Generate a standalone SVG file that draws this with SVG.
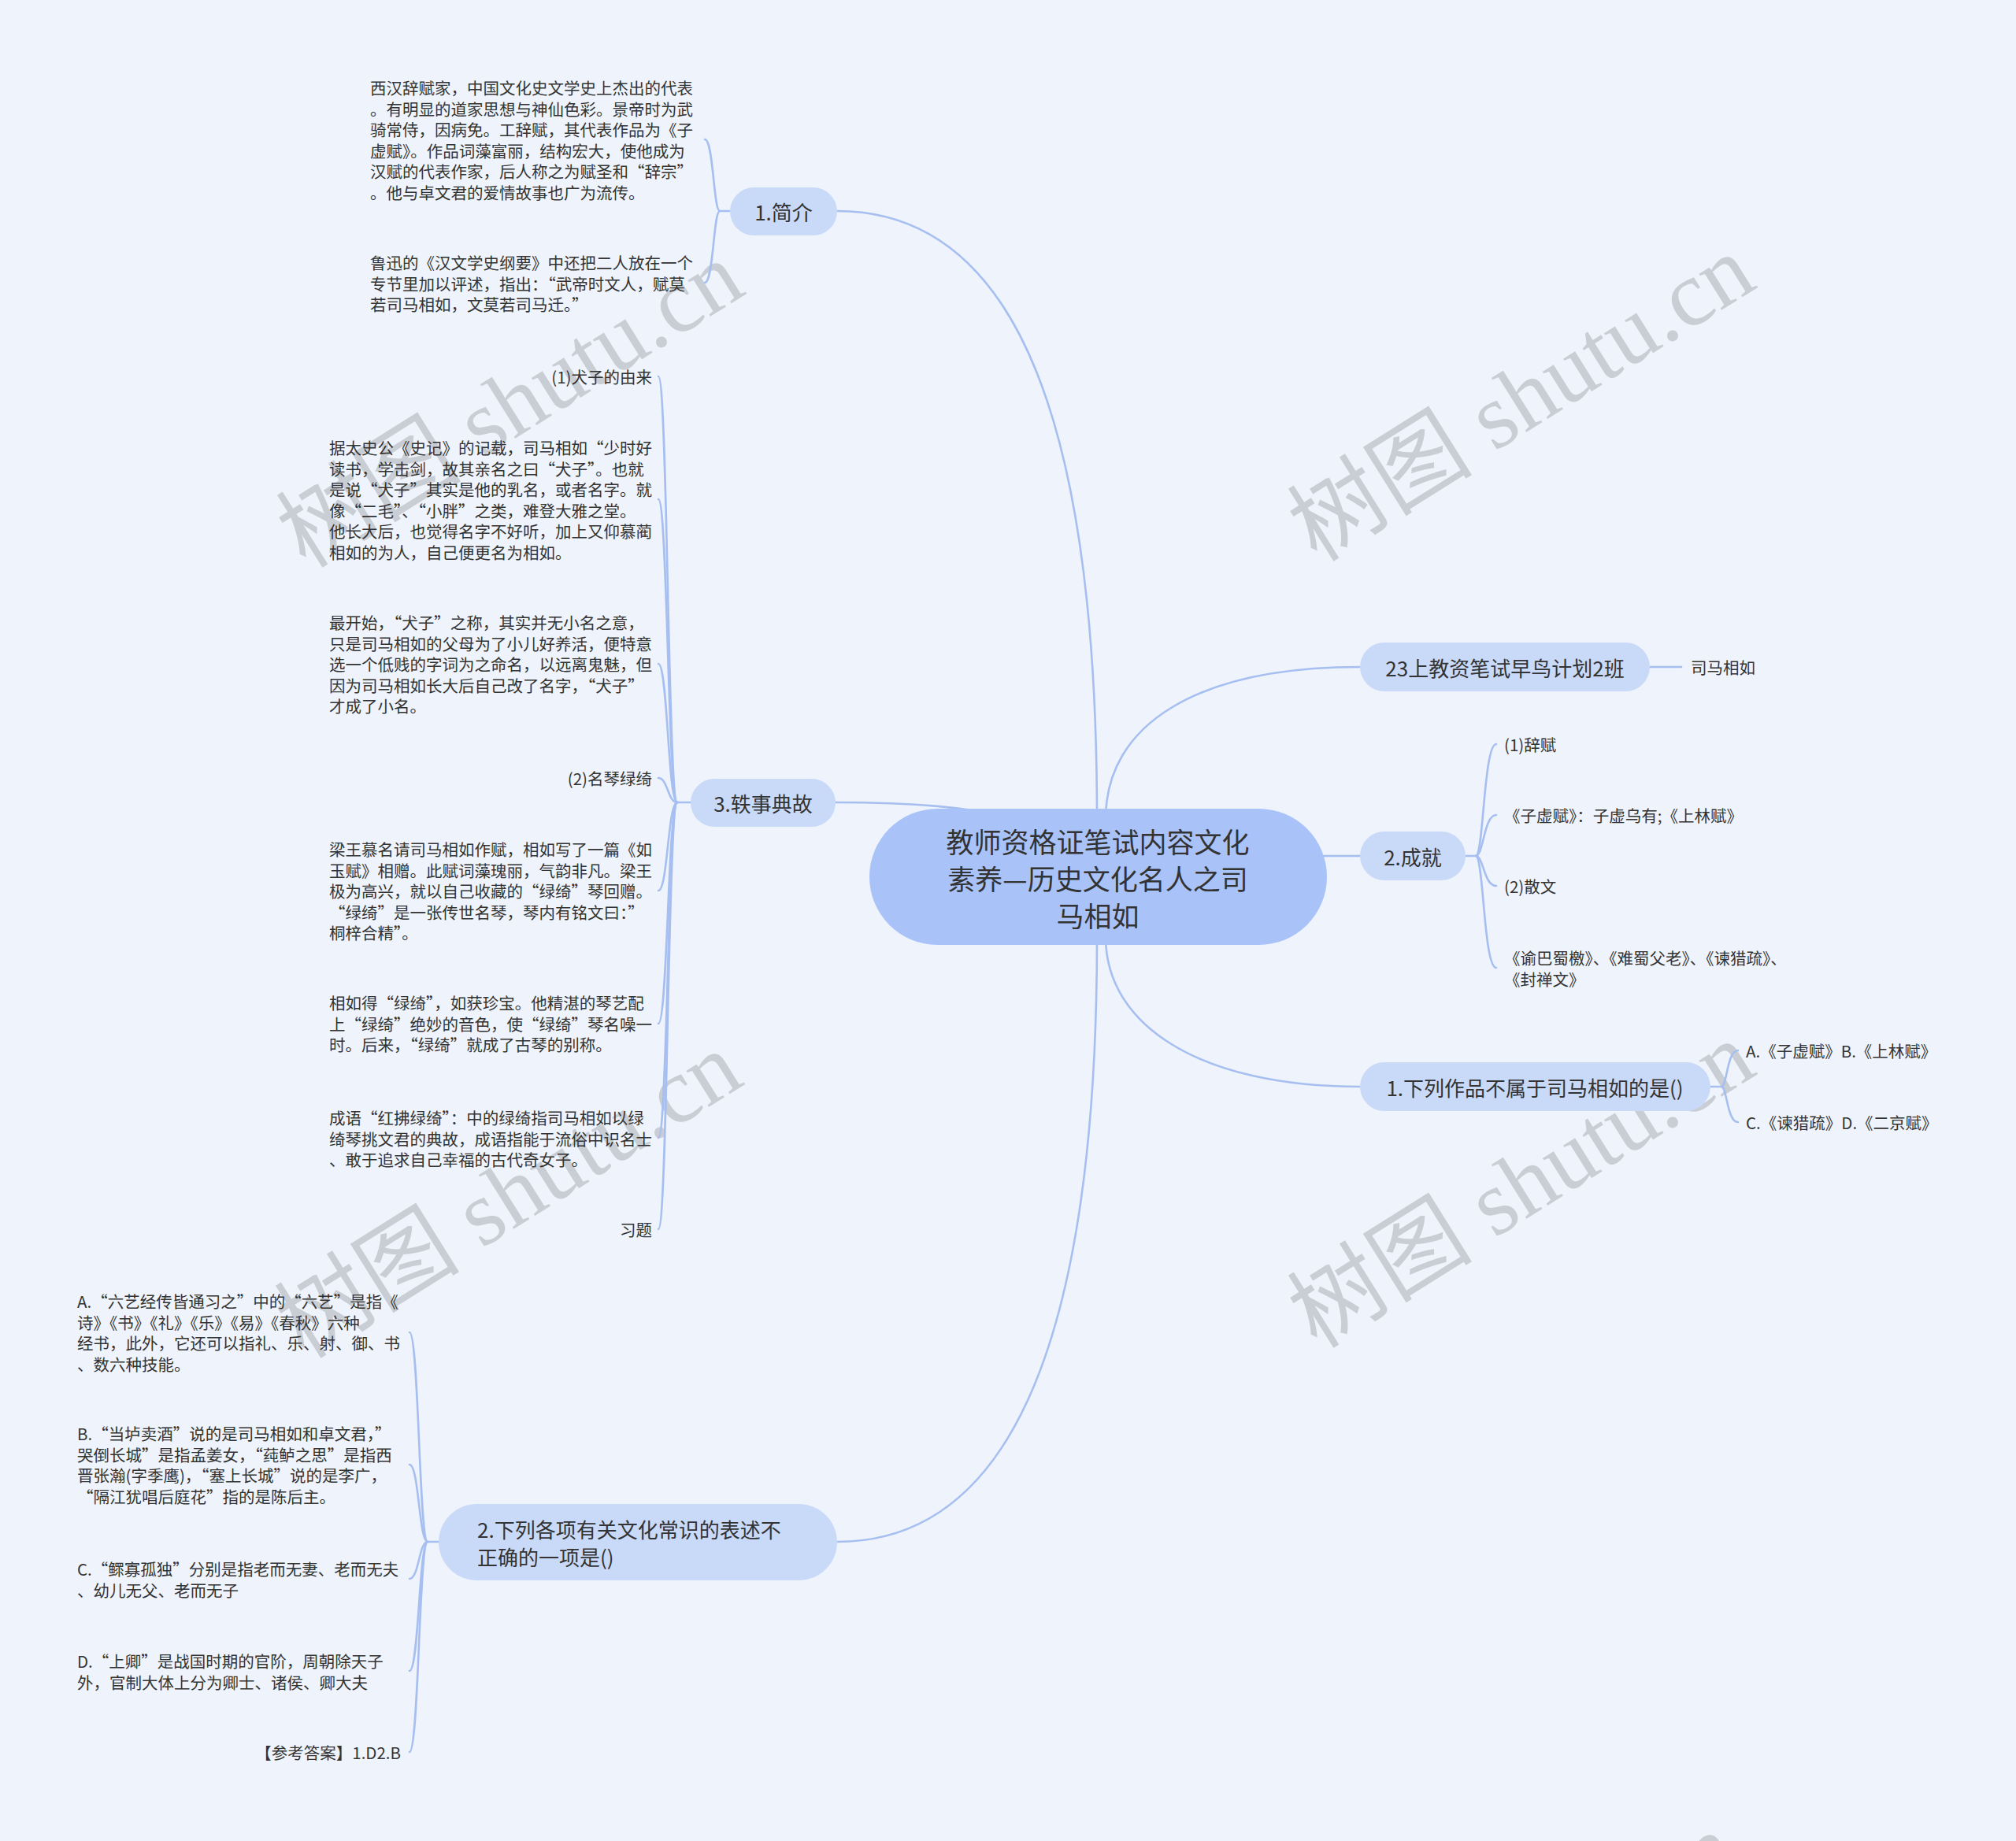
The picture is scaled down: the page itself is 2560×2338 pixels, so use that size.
<svg xmlns="http://www.w3.org/2000/svg" width="2560" height="2338" viewBox="0 0 2560 2338">
<style>
.bg{fill:#EEF3FC}
.ln{fill:none;stroke:#A6BFF0;stroke-width:2.6;stroke-linecap:round}
.root{fill:#A9C3F9}
.l1{fill:#C9DAF9}
.t{font-family:"Noto Sans CJK SC","Liberation Sans",sans-serif;fill:#333333;dominant-baseline:central}
.tr{font-size:35px;text-anchor:middle}
.t1{font-size:26px}
.c{text-anchor:middle}
.e{text-anchor:end}
.lf{font-size:20.5px}
.wm{font-family:"Liberation Serif","Noto Sans CJK SC",serif;font-size:118px;fill:#C9CDD4;text-anchor:middle;dominant-baseline:central}
</style>
<rect class="bg" x="0" y="0" width="2560" height="2338"/>

<g id="watermarks">
  <text class="wm" x="648" y="514" transform="rotate(-32 648 514)">树图 shutu.cn</text>
  <text class="wm" x="1932" y="506" transform="rotate(-32 1932 506)">树图 shutu.cn</text>
  <text class="wm" x="646" y="1518" transform="rotate(-32 646 1518)">树图 shutu.cn</text>
  <text class="wm" x="1932" y="1505" transform="rotate(-32 1932 1505)">树图 shutu.cn</text>
  <text class="wm" x="630" y="2522" transform="rotate(-32 630 2522)">树图 shutu.cn</text>
  <text class="wm" x="1910" y="2510" transform="rotate(-32 1910 2510)">树图 shutu.cn</text>
</g>

<g id="connectors">
  <path class="ln" d="M1063,268 C1300,268 1393,560 1393,1040"/>
  <path class="ln" d="M1063,1958 C1300,1958 1393,1660 1393,1190"/>
  <path class="ln" d="M1727,847 C1520,847 1404,920 1404,1040"/>
  <path class="ln" d="M1727,1380 C1520,1380 1404,1300 1404,1190"/>
  <path class="ln" d="M1670,1087 H1727"/>
  <path class="ln" d="M1061,1019 C1160,1019 1230,1025 1290,1040"/>
  <path class="ln" d="M2095,847 H2135"/>
  <path class="ln" d="M927,268 H914"/>
  <path class="ln" d="M914,268 C906,268 906,177 895,177"/>
  <path class="ln" d="M914,268 C906,268 906,359 895,359"/>
  <path class="ln" d="M877,1019 H860"/>
  <path class="ln" d="M860,1019 C848,1019 848,478 836,478"/>
  <path class="ln" d="M860,1019 C848,1019 848,634 836,634"/>
  <path class="ln" d="M860,1019 C848,1019 848,843 836,843"/>
  <path class="ln" d="M860,1019 C848,1019 848,988 836,988"/>
  <path class="ln" d="M860,1019 C848,1019 848,1131 836,1131"/>
  <path class="ln" d="M860,1019 C848,1019 848,1300 836,1300"/>
  <path class="ln" d="M860,1019 C848,1019 848,1445 836,1445"/>
  <path class="ln" d="M860,1019 C848,1019 848,1561 836,1561"/>
  <path class="ln" d="M1861,1087 H1874"/>
  <path class="ln" d="M1874,1087 C1884,1087 1884,945 1900,945"/>
  <path class="ln" d="M1874,1087 C1884,1087 1884,1035 1900,1035"/>
  <path class="ln" d="M1874,1087 C1884,1087 1884,1125 1900,1125"/>
  <path class="ln" d="M1874,1087 C1884,1087 1884,1229 1900,1229"/>
  <path class="ln" d="M2172,1380 H2186"/>
  <path class="ln" d="M2186,1380 C2193,1380 2193,1334 2207,1334"/>
  <path class="ln" d="M2186,1380 C2193,1380 2193,1425 2207,1425"/>
  <path class="ln" d="M557,1958 H543"/>
  <path class="ln" d="M543,1958 C532,1958 532,1692 520,1692"/>
  <path class="ln" d="M543,1958 C532,1958 532,1860 520,1860"/>
  <path class="ln" d="M543,1958 C532,1958 532,2005 520,2005"/>
  <path class="ln" d="M543,1958 C532,1958 532,2122 520,2122"/>
  <path class="ln" d="M543,1958 C532,1958 532,2225 520,2225"/>
</g>

<g id="root">
  <rect class="root" x="1104" y="1027" width="581" height="173" rx="86.5"/>
  <text class="t tr"><tspan x="1394" y="1067">教师资格证笔试内容文化</tspan><tspan x="1394" y="1114">素养—历史文化名人之司</tspan><tspan x="1394" y="1161">马相如</tspan></text>
</g>

<g id="n-jianjie">
  <rect class="l1" x="927" y="238" width="136" height="61" rx="30.5"/>
  <text class="t t1 c" x="995" y="268">1.简介</text>
</g>
<g id="n-jianjie-1">
  <text class="t lf"><tspan x="470" y="111">西汉辞赋家，中国文化史文学史上杰出的代表</tspan><tspan x="470" y="137.5">。有明显的道家思想与神仙色彩。景帝时为武</tspan><tspan x="470" y="164">骑常侍，因病免。工辞赋，其代表作品为《子</tspan><tspan x="470" y="190.5">虚赋》。作品词藻富丽，结构宏大，使他成为</tspan><tspan x="470" y="217">汉赋的代表作家，后人称之为赋圣和“辞宗”</tspan><tspan x="470" y="243.5">。他与卓文君的爱情故事也广为流传。</tspan></text>
</g>
<g id="n-jianjie-2">
  <text class="t lf"><tspan x="470" y="333">鲁迅的《汉文学史纲要》中还把二人放在一个</tspan><tspan x="470" y="359.5">专节里加以评述，指出：“武帝时文人，赋莫</tspan><tspan x="470" y="386">若司马相如，文莫若司马迁。”</tspan></text>
</g>

<g id="n-yishi">
  <rect class="l1" x="877" y="989" width="184" height="61" rx="30.5"/>
  <text class="t t1 c" x="969" y="1019">3.轶事典故</text>
</g>
<g id="n-yishi-1"><text class="t lf e" x="828" y="478">(1)犬子的由来</text></g>
<g id="n-yishi-2">
  <text class="t lf"><tspan x="418" y="568">据太史公《史记》的记载，司马相如“少时好</tspan><tspan x="418" y="594.5">读书，学击剑，故其亲名之曰“犬子”。也就</tspan><tspan x="418" y="621">是说“犬子”其实是他的乳名，或者名字。就</tspan><tspan x="418" y="647.5">像“二毛”、“小胖”之类，难登大雅之堂。</tspan><tspan x="418" y="674">他长大后，也觉得名字不好听，加上又仰慕蔺</tspan><tspan x="418" y="700.5">相如的为人，自己便更名为相如。</tspan></text>
</g>
<g id="n-yishi-3">
  <text class="t lf"><tspan x="418" y="790">最开始，“犬子”之称，其实并无小名之意，</tspan><tspan x="418" y="816.5">只是司马相如的父母为了小儿好养活，便特意</tspan><tspan x="418" y="843">选一个低贱的字词为之命名，以远离鬼魅，但</tspan><tspan x="418" y="869.5">因为司马相如长大后自己改了名字，“犬子”</tspan><tspan x="418" y="896">才成了小名。</tspan></text>
</g>
<g id="n-yishi-4"><text class="t lf e" x="828" y="988">(2)名琴绿绮</text></g>
<g id="n-yishi-5">
  <text class="t lf"><tspan x="418" y="1078">梁王慕名请司马相如作赋，相如写了一篇《如</tspan><tspan x="418" y="1104.5">玉赋》相赠。此赋词藻瑰丽，气韵非凡。梁王</tspan><tspan x="418" y="1131">极为高兴，就以自己收藏的“绿绮”琴回赠。</tspan><tspan x="418" y="1157.5">“绿绮”是一张传世名琴，琴内有铭文曰：”</tspan><tspan x="418" y="1184">桐梓合精”。</tspan></text>
</g>
<g id="n-yishi-6">
  <text class="t lf"><tspan x="418" y="1273">相如得“绿绮”，如获珍宝。他精湛的琴艺配</tspan><tspan x="418" y="1299.5">上“绿绮”绝妙的音色，使“绿绮”琴名噪一</tspan><tspan x="418" y="1326">时。后来，“绿绮”就成了古琴的别称。</tspan></text>
</g>
<g id="n-yishi-7">
  <text class="t lf"><tspan x="418" y="1419">成语“红拂绿绮”：中的绿绮指司马相如以绿</tspan><tspan x="418" y="1445.5">绮琴挑文君的典故，成语指能于流俗中识名士</tspan><tspan x="418" y="1472">、敢于追求自己幸福的古代奇女子。</tspan></text>
</g>
<g id="n-yishi-8"><text class="t lf e" x="828" y="1561">习题</text></g>

<g id="n-ban">
  <rect class="l1" x="1727" y="816" width="368" height="62" rx="31"/>
  <text class="t t1 c" x="1911" y="847">23上教资笔试早鸟计划2班</text>
</g>
<g id="n-ban-1"><text class="t lf" x="2147" y="847">司马相如</text></g>

<g id="n-chengjiu">
  <rect class="l1" x="1727" y="1056" width="134" height="62" rx="31"/>
  <text class="t t1 c" x="1794" y="1087">2.成就</text>
</g>
<g id="n-chengjiu-1"><text class="t lf" x="1910" y="945">(1)辞赋</text></g>
<g id="n-chengjiu-2"><text class="t lf" x="1910" y="1035">《子虚赋》：子虚乌有;《上林赋》</text></g>
<g id="n-chengjiu-3"><text class="t lf" x="1910" y="1125">(2)散文</text></g>
<g id="n-chengjiu-4">
  <text class="t lf"><tspan x="1910" y="1216">《谕巴蜀檄》、《难蜀父老》、《谏猎疏》、</tspan><tspan x="1910" y="1242.5">《封禅文》</tspan></text>
</g>

<g id="n-q1">
  <rect class="l1" x="1727" y="1349" width="445" height="62" rx="31"/>
  <text class="t t1 c" x="1949" y="1380">1.下列作品不属于司马相如的是()</text>
</g>
<g id="n-q1-1"><text class="t lf" x="2217" y="1334">A.《子虚赋》B.《上林赋》</text></g>
<g id="n-q1-2"><text class="t lf" x="2217" y="1425">C.《谏猎疏》D.《二京赋》</text></g>

<g id="n-q2">
  <rect class="l1" x="557" y="1910" width="506" height="97" rx="48.5"/>
  <text class="t t1"><tspan x="606" y="1941">2.下列各项有关文化常识的表述不</tspan><tspan x="606" y="1976">正确的一项是()</tspan></text>
</g>
<g id="n-q2-1">
  <text class="t lf"><tspan x="98" y="1652">A.“六艺经传皆通习之”中的“六艺”是指《</tspan><tspan x="98" y="1678.5">诗》《书》《礼》《乐》《易》《春秋》六种</tspan><tspan x="98" y="1705">经书，此外，它还可以指礼、乐、射、御、书</tspan><tspan x="98" y="1731.5">、数六种技能。</tspan></text>
</g>
<g id="n-q2-2">
  <text class="t lf"><tspan x="98" y="1820">B.“当垆卖酒”说的是司马相如和卓文君，”</tspan><tspan x="98" y="1846.5">哭倒长城”是指孟姜女，“莼鲈之思”是指西</tspan><tspan x="98" y="1873">晋张瀚(字季鹰)，“塞上长城”说的是李广，</tspan><tspan x="98" y="1899.5">“隔江犹唱后庭花”指的是陈后主。</tspan></text>
</g>
<g id="n-q2-3">
  <text class="t lf"><tspan x="98" y="1992">C.“鳏寡孤独”分别是指老而无妻、老而无夫</tspan><tspan x="98" y="2018.5">、幼儿无父、老而无子</tspan></text>
</g>
<g id="n-q2-4">
  <text class="t lf"><tspan x="98" y="2109">D.“上卿”是战国时期的官阶，周朝除天子</tspan><tspan x="98" y="2135.5">外，官制大体上分为卿士、诸侯、卿大夫</tspan></text>
</g>
<g id="n-q2-5"><text class="t lf e" x="509" y="2225">【参考答案】1.D2.B</text></g>
</svg>
